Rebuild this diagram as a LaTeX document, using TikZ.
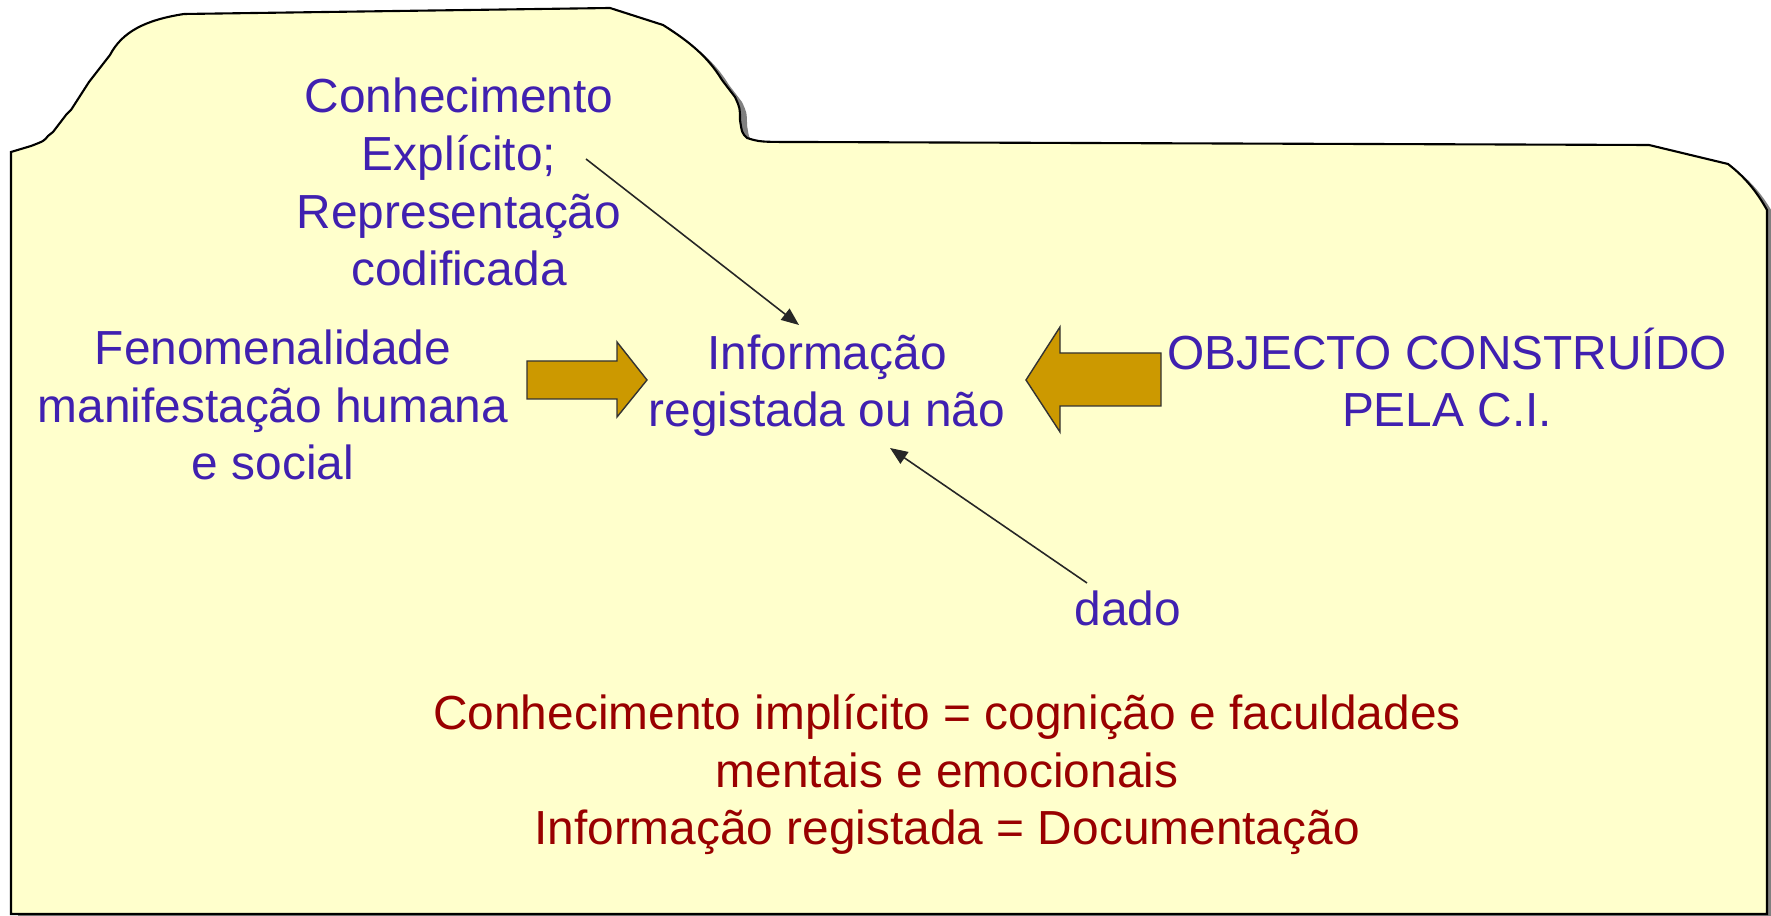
\documentclass[tikz,border=0pt]{standalone}
\usepackage{fontspec}
\setmainfont{Liberation Sans}
\usepackage{tikz}
\usetikzlibrary{arrows.meta,shadows,positioning}
\definecolor{Papel}{RGB}{255,255,204}
\definecolor{Violeta}{RGB}{64,32,176}
\definecolor{Grena}{RGB}{153,0,0}
\definecolor{Ocre}{RGB}{204,153,0}

\begin{document}
\begin{tikzpicture}[x=0.01cm,y=-0.01cm,
  texto/.style={font=\fontsize{13.6}{16.4}\selectfont, align=center, inner sep=0pt, anchor=base},
  azul/.style={texto, text=Violeta},
  vermelho/.style={texto, text=Grena},
  seta/.style={draw=black!85, line width=0.45pt, -{Triangle[length=5pt,width=4pt]}},
  bloco/.style={draw=black!80, line width=0.4pt, fill=Ocre}]
\useasboundingbox (0,0) rectangle (1771,916);
%
% pasta
\draw[line width=0.6pt, fill=Papel,
  drop shadow={shadow xshift=0.07cm, shadow yshift=-0.05cm, fill=black!50, opacity=1}]
  (11,914) -- (11,152) -- (31,146) .. controls (44,141) .. (48,136) -- (53,132)
  -- (66,115) -- (71,110) -- (89,82) -- (110,55) .. controls (122,32) and (145,20) .. (184,14)
  -- (610,8) -- (663,25) .. controls (690,42) and (708,57) .. (722,80) -- (735,97)
  .. controls (740,108) .. (740,120) .. controls (742,133) .. (747,138)
  .. controls (760,142) .. (800,142)
  -- (1649,145) -- (1728,164) .. controls (1745,177) and (1757,192) .. (1767,210)
  -- (1767,914) -- cycle;
%
% textos (base = ultima linha)
\node[azul] (explicito) at (459,286) {Conhecimento\\Explícito;\\Representação\\codificada};
\node[azul] (fenomeno) at (273,480) {Fenomenalidade\\manifestação humana\\e social};
\node[azul] (informacao) at (827,427) {Informação\\registada ou não};
\node[azul] (objecto) at (1447,427) {OBJECTO CONSTRUÍDO\\PELA C.I.};
\node[azul] (dado) at (1128,626) {dado};
\node[vermelho] (implicito) at (947,845) {Conhecimento implícito = cognição e faculdades\\mentais e emocionais\\Informação registada = Documentação};
%
% setas
\coordinate (explicito-ini) at (586,159);
\coordinate (informacao-topo) at (799,325);
\coordinate (dado-ini) at (1087,583);
\coordinate (informacao-base) at (890,448);
\draw[seta] (explicito-ini) -- (informacao-topo);
\draw[seta] (dado-ini) -- (informacao-base);
%
\draw[bloco] (527,361) -- (617,361) -- (617,342) -- (647,380) -- (617,417) -- (617,399) -- (527,399) -- cycle;
\draw[bloco] (1161,353) -- (1060,353) -- (1060,327) -- (1026,380) -- (1060,432) -- (1060,406) -- (1161,406) -- cycle;
%
\end{tikzpicture}
\end{document}
